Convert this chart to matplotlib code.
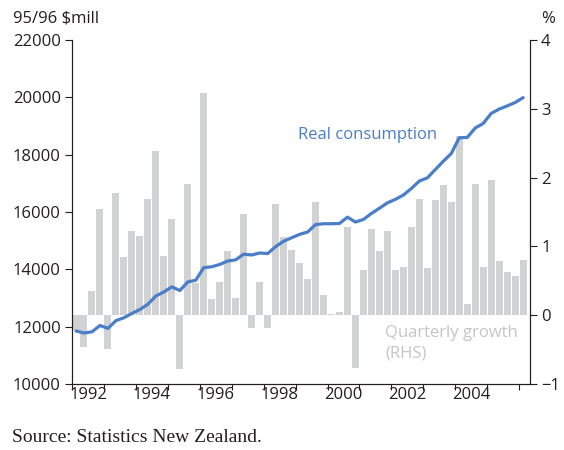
import matplotlib
matplotlib.use("Agg")
import matplotlib.pyplot as plt
import numpy as np

# quarterly data, 1992 Q1 to 2006 Q1
start_year = 1992
consumption = [11850, 11780, 11820, 12040, 11940, 12210, 12310, 12460,
               12600, 12780, 13070, 13210, 13390, 13260, 13560, 13620,
               14060, 14090, 14170, 14290, 14330, 14530, 14500, 14570,
               14550, 14790, 14980, 15100, 15220, 15300, 15560, 15590,
               15590, 15600, 15820, 15650, 15740, 15950, 16130, 16320,
               16440, 16590, 16820, 17080, 17190, 17480, 17770, 18040,
               18590, 18600, 18930, 19090, 19440, 19590, 19700, 19820,
               19990]
growth = [-0.21, -0.46, 0.35, 1.54, -0.49, 1.78, 0.85, 1.22,
          1.15, 1.69, 2.39, 0.86, 1.40, -0.78, 1.91, 0.47,
          3.23, 0.24, 0.48, 0.93, 0.25, 1.47, -0.19, 0.48,
          -0.19, 1.62, 1.14, 0.95, 0.76, 0.53, 1.65, 0.29,
          0.02, 0.05, 1.28, -0.77, 0.66, 1.25, 0.93, 1.22,
          0.66, 0.70, 1.28, 1.69, 0.69, 1.67, 1.89, 1.65,
          2.60, 0.16, 1.91, 0.70, 1.97, 0.79, 0.63, 0.57,
          0.80]
year_labels = ["1992", "1994", "1996", "1998", "2000", "2002", "2004"]

blue = "#4a7ec8"
bar_grey = "#d1d2d4"
text_col = "#231f20"

plt.rcParams['font.family'] = ['Open Sans', 'DejaVu Sans']

# x position of each quarter (centre of the quarter)
x = start_year + (np.arange(len(growth)) + 0.5) / 4

fig = plt.figure(figsize=(5.64, 4.5), dpi=100)
ax = fig.add_axes([72/564, 1 - 384/450, (530 - 72)/564, (384 - 40)/450])
ax2 = ax.twinx()

# bars on the host axes (drawn first), scale shown on the right
ax.bar(x, growth, width=0.22, color=bar_grey, linewidth=0)
ax.set_ylim(-1, 4)
ax.yaxis.tick_right()
ax.set_yticks([-1, 0, 1, 2, 3, 4])

# line on the twin axes, scale shown on the left
ax2.plot(x, consumption, color=blue, linewidth=2.3, solid_capstyle='round')
ax2.set_ylim(10000, 22000)
ax2.yaxis.tick_left()
ax2.set_yticks(range(10000, 22001, 2000))

# year boundaries get ticks, labels sit mid-year
ax.set_xlim(1992, 2006.34)
ax.set_xticks(range(1992, 2007))
ax.set_xticklabels([])
ax.set_xticks([int(y) + 0.5 for y in year_labels], minor=True)
ax.set_xticklabels(year_labels, minor=True)
ax.tick_params(axis='x', which='major', direction='out', length=4, width=0.8, color=text_col)
ax.tick_params(axis='x', which='minor', length=0, labelsize=12, labelcolor=text_col, pad=2)
ax.tick_params(axis='y', direction='out', length=5, width=0.8, labelsize=12,
               labelcolor=text_col, color=text_col, pad=3)
ax2.tick_params(axis='y', direction='out', length=5, width=0.8, labelsize=12,
                labelcolor=text_col, color=text_col, pad=3)

for a in (ax, ax2):
    a.spines['top'].set_visible(False)
    for s in ('left', 'right', 'bottom'):
        a.spines[s].set_linewidth(0.8)
        a.spines[s].set_color(text_col)

# labels
fig.text(13/564, 1 - 19/450, "95/96 $mill", fontsize=12, color=text_col, va='center')
fig.text(548/564, 1 - 19/450, "%", fontsize=12, color=text_col, va='center', ha='center')
fig.text(298/564, 1 - 135/450, "Real consumption", fontsize=12, color=blue, va='center')
fig.text(385/564, 1 - 333/450, "Quarterly growth", fontsize=12, color="#c4c5c7", va='center')
fig.text(385/564, 1 - 353/450, "(RHS)", fontsize=12, color="#c4c5c7", va='center')
fig.text(12/564, 1 - 437/450, "Source: Statistics New Zealand.", fontsize=14,
         family='Liberation Serif', color=text_col, va='center')

fig.savefig("out.png", dpi=100)
